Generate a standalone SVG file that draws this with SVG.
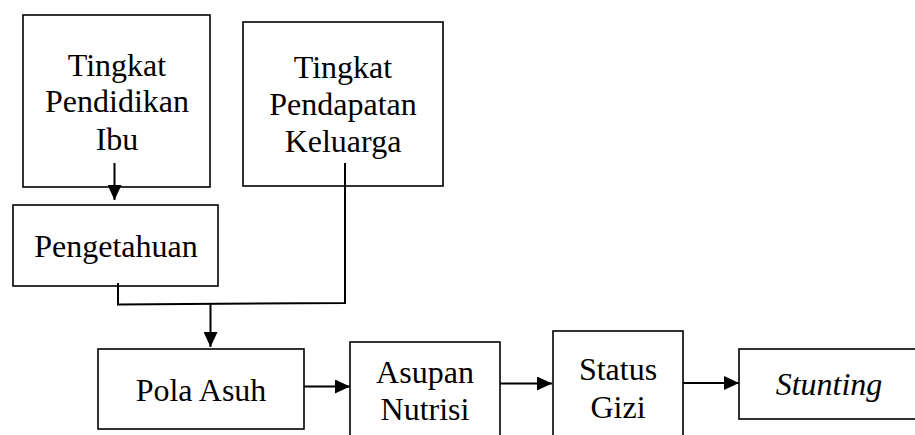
<svg xmlns="http://www.w3.org/2000/svg" width="915" height="435" viewBox="0 0 915 435">
<style>
.box{fill:#fff;stroke:#000;stroke-width:1.6}
.t{font-family:"Liberation Serif","Times New Roman",serif;font-size:32px;fill:#000;text-anchor:middle}
.it{font-style:italic}
.c{fill:none;stroke:#000;stroke-width:2}
</style>
<defs>
<marker id="ah" viewBox="0 0 15 14" refX="15" refY="7" markerWidth="15" markerHeight="14" markerUnits="userSpaceOnUse" orient="auto">
<path d="M0,0 L15,7 L0,14 z" fill="#000"/>
</marker>
</defs>
<rect width="915" height="435" fill="#fff"/>
<g id="n-pendidikan">
<rect class="box" x="23" y="15" width="187" height="172"/>
<text class="t" x="117" y="76">Tingkat</text>
<text class="t" x="117" y="112">Pendidikan</text>
<text class="t" x="117" y="150">Ibu</text>
</g>
<g id="n-pendapatan">
<rect class="box" x="243" y="22" width="200" height="164"/>
<text class="t" x="343" y="78">Tingkat</text>
<text class="t" x="343" y="115">Pendapatan</text>
<text class="t" x="343" y="152">Keluarga</text>
</g>
<g id="n-pengetahuan">
<rect class="box" x="13" y="205" width="205" height="81"/>
<text class="t" x="116" y="257">Pengetahuan</text>
</g>
<g id="n-polaasuh">
<rect class="box" x="98" y="349" width="206" height="80"/>
<text class="t" x="201" y="401">Pola Asuh</text>
</g>
<g id="n-asupan">
<rect class="box" x="350" y="342" width="150" height="100"/>
<text class="t" x="425" y="383">Asupan</text>
<text class="t" x="425" y="420">Nutrisi</text>
</g>
<g id="n-status">
<rect class="box" x="553" y="331" width="130" height="111"/>
<text class="t" x="618" y="380">Status</text>
<text class="t" x="618" y="418">Gizi</text>
</g>
<g id="n-stunting">
<rect class="box" x="739" y="349" width="185" height="70"/>
<text class="t it" x="829" y="395">Stunting</text>
</g>
<g id="connectors">
<line class="c" x1="114.5" y1="163" x2="114.5" y2="200" marker-end="url(#ah)"/>
<polyline class="c" points="118,283 118,304.5 345,303 345,163"/>
<line class="c" x1="210.5" y1="304" x2="210.5" y2="347" marker-end="url(#ah)"/>
<line class="c" x1="304" y1="386.5" x2="350" y2="386.5" marker-end="url(#ah)"/>
<line class="c" x1="500" y1="383.5" x2="552" y2="383.5" marker-end="url(#ah)"/>
<line class="c" x1="683" y1="383" x2="739" y2="383" marker-end="url(#ah)"/>
</g>
</svg>
